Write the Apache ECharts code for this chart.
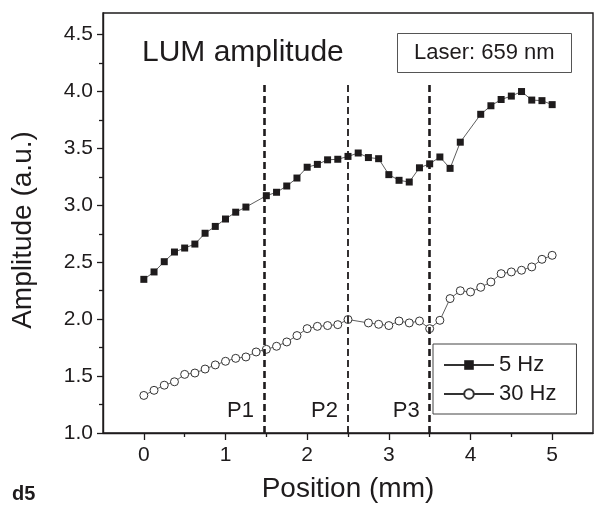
<!DOCTYPE html>
<html>
<head>
<meta charset="utf-8">
<script src="https://cdn.jsdelivr.net/npm/echarts@6/dist/echarts.min.js"></script>
<style>
  html, body { margin: 0; padding: 0; background: #fff; }
  #chart { width: 597px; height: 509px; }
</style>
</head>
<body>
<div id="chart"></div>
<script>
// Position along the sample (mm) and LUM amplitude (a.u.) for each modulation frequency
var pos5Hz = [0, 0.125, 0.25, 0.375, 0.5, 0.625, 0.75, 0.875, 1.0, 1.125, 1.25,
  1.5, 1.625, 1.75, 1.875, 2.0, 2.125, 2.25, 2.375, 2.5, 2.625, 2.75, 2.875,
  3.0, 3.125, 3.25, 3.375, 3.5, 3.625, 3.75, 3.875,
  4.125, 4.25, 4.375, 4.5, 4.625, 4.75, 4.875, 5.0];
var amp5Hz = [2.35, 2.415, 2.505, 2.59, 2.625, 2.66, 2.755, 2.815, 2.88, 2.94, 2.985,
  3.085, 3.115, 3.17, 3.24, 3.335, 3.36, 3.40, 3.405, 3.43, 3.46, 3.42, 3.41,
  3.27, 3.22, 3.205, 3.33, 3.365, 3.425, 3.325, 3.555,
  3.80, 3.875, 3.93, 3.96, 4.0, 3.925, 3.92, 3.885];

var pos30Hz = [0, 0.125, 0.25, 0.375, 0.5, 0.625, 0.75, 0.875, 1.0, 1.125, 1.25,
  1.375, 1.5, 1.625, 1.75, 1.875, 2.0, 2.125, 2.25, 2.375, 2.5,
  2.75, 2.875, 3.0, 3.125, 3.25, 3.375, 3.5, 3.625, 3.75, 3.875,
  4.0, 4.125, 4.25, 4.375, 4.5, 4.625, 4.75, 4.875, 5.0];
var amp30Hz = [1.33, 1.375, 1.42, 1.45, 1.515, 1.527, 1.562, 1.598, 1.63, 1.656, 1.668,
  1.712, 1.735, 1.762, 1.80, 1.856, 1.917, 1.937, 1.944, 1.952, 1.997,
  1.967, 1.955, 1.944, 1.984, 1.967, 1.984, 1.917, 1.99, 2.181, 2.25,
  2.239, 2.28, 2.327, 2.40, 2.415, 2.43, 2.459, 2.526, 2.561];

// Boundary positions P1..P3 (mm)
var boundaryPos = [1.47, 2.5, 3.5];
var boundaryNames = ['P1', 'P2', 'P3'];
var boundaryWidths = [2.6, 1.8, 2.6];
var boundaryTop = 4.07;
var boundaryLabelY = 1.19;

// Axis ticks
var xMajorTicks = [0, 1, 2, 3, 4, 5];
var xMinorTicks = [0.5, 1.5, 2.5, 3.5, 4.5];
var yMajorTicks = [1.0, 1.5, 2.0, 2.5, 3.0, 3.5, 4.0, 4.5];
var yMinorTicks = [1.25, 1.75, 2.25, 2.75, 3.25, 3.75, 4.25];

function pairs(xs, ys) {
  return xs.map(function (x, i) { return [x, ys[i]]; });
}

var FONT = '"Liberation Sans", Arial, Helvetica, sans-serif';
var INK = '#1e1b1c';

var chart = echarts.init(document.getElementById('chart'), null, { renderer: 'canvas' });

var xRange = { min: -0.5, max: 5.5 };
var yRange = { min: 1.0, max: 4.69 };

chart.setOption({
  backgroundColor: '#fff',
  animation: false,
  textStyle: { fontFamily: FONT, color: INK },
  title: [
    {
      text: 'LUM amplitude',
      left: 142, top: 38,
      padding: 0,
      textStyle: { fontFamily: FONT, fontSize: 30, fontWeight: 'normal', color: INK }
    },
    {
      text: 'Laser: 659 nm',
      left: 397, top: 33,
      padding: [8, 17, 8, 17],
      borderColor: '#555', borderWidth: 1,
      textStyle: { fontFamily: FONT, fontSize: 22, fontWeight: 'normal', color: INK, lineHeight: 24 }
    },
    {
      text: 'd5',
      left: 12, top: 484,
      padding: 0,
      textStyle: { fontFamily: FONT, fontSize: 20, fontWeight: 'bold', color: INK }
    }
  ],
  grid: {
    left: 103, right: 4, top: 13, bottom: 76,
    show: true, borderColor: INK, borderWidth: 1.4, backgroundColor: 'transparent'
  },
  legend: {
    data: ['5 Hz', '30 Hz'],
    orient: 'vertical',
    left: 433, top: 344,
    padding: [9, 20, 8, 10],
    itemGap: 5,
    itemWidth: 50, itemHeight: 12,
    borderColor: '#444', borderWidth: 1,
    textStyle: { fontFamily: FONT, fontSize: 22, color: INK, lineHeight: 24 }
  },
  xAxis: [
    {
      type: 'value', min: xRange.min, max: xRange.max, position: 'bottom',
      name: 'Position (mm)', nameLocation: 'middle', nameGap: 42,
      nameTextStyle: { fontFamily: FONT, fontSize: 28, color: INK },
      axisLine: { show: true, onZero: false, lineStyle: { color: INK, width: 1.4 } },
      axisTick: { show: true, inside: false, length: 7, customValues: xMajorTicks, lineStyle: { color: INK, width: 1.3 } },
      axisLabel: { customValues: xMajorTicks, margin: 12, fontFamily: FONT, fontSize: 21, color: INK },
      splitLine: { show: false }
    },
    {
      type: 'value', min: xRange.min, max: xRange.max, position: 'bottom', offset: 0,
      axisLine: { show: false, onZero: false },
      axisTick: { show: true, inside: false, length: 4, customValues: xMinorTicks, lineStyle: { color: INK, width: 1.3 } },
      axisLabel: { show: false },
      splitLine: { show: false }
    }
  ],
  yAxis: [
    {
      type: 'value', min: yRange.min, max: yRange.max, position: 'left',
      name: 'Amplitude (a.u.)', nameLocation: 'middle', nameGap: 66,
      nameTextStyle: { fontFamily: FONT, fontSize: 28, color: INK, padding: [0, 14, 0, 0] },
      axisLine: { show: true, onZero: false, lineStyle: { color: INK, width: 1.4 } },
      axisTick: { show: true, inside: false, length: 6, customValues: yMajorTicks, lineStyle: { color: INK, width: 1.3 } },
      axisLabel: {
        customValues: yMajorTicks, margin: 10, fontFamily: FONT, fontSize: 21, color: INK,
        formatter: function (v) { return v.toFixed(1); }
      },
      splitLine: { show: false }
    },
    {
      type: 'value', min: yRange.min, max: yRange.max, position: 'left', offset: 0,
      axisLine: { show: false, onZero: false },
      axisTick: { show: true, inside: false, length: 4, customValues: yMinorTicks, lineStyle: { color: INK, width: 1.3 } },
      axisLabel: { show: false },
      splitLine: { show: false }
    }
  ],
  series: [
    {
      name: '5 Hz',
      type: 'line',
      data: pairs(pos5Hz, amp5Hz),
      symbol: 'rect', symbolSize: 7,
      itemStyle: { color: INK },
      lineStyle: { color: '#333', width: 0.8 },
      z: 4
    },
    {
      name: '30 Hz',
      type: 'line',
      data: pairs(pos30Hz, amp30Hz),
      symbol: 'circle', symbolSize: 8,
      itemStyle: { color: '#fff', borderColor: '#333', borderWidth: 1 },
      lineStyle: { color: '#333', width: 0.8 },
      z: 4,
      markLine: {
        silent: true,
        symbol: ['none', 'none'],
        label: { show: false },
        data: boundaryPos.map(function (x, i) {
          return [
            { coord: [x, yRange.min], lineStyle: { type: [7, 4], width: boundaryWidths[i], color: INK } },
            { coord: [x, boundaryTop] }
          ];
        })
      }
    },
    {
      name: 'boundaries',
      type: 'scatter',
      data: boundaryPos.map(function (x, i) { return { value: [x, boundaryLabelY], name: boundaryNames[i] }; }),
      symbolSize: 0,
      silent: true,
      itemStyle: { opacity: 1, color: INK },
      label: {
        show: true, position: 'left', distance: 10,
        formatter: function (p) { return p.name; },
        fontFamily: FONT, fontSize: 22, color: INK
      },
      z: 3
    }
  ]
});
</script>
</body>
</html>
